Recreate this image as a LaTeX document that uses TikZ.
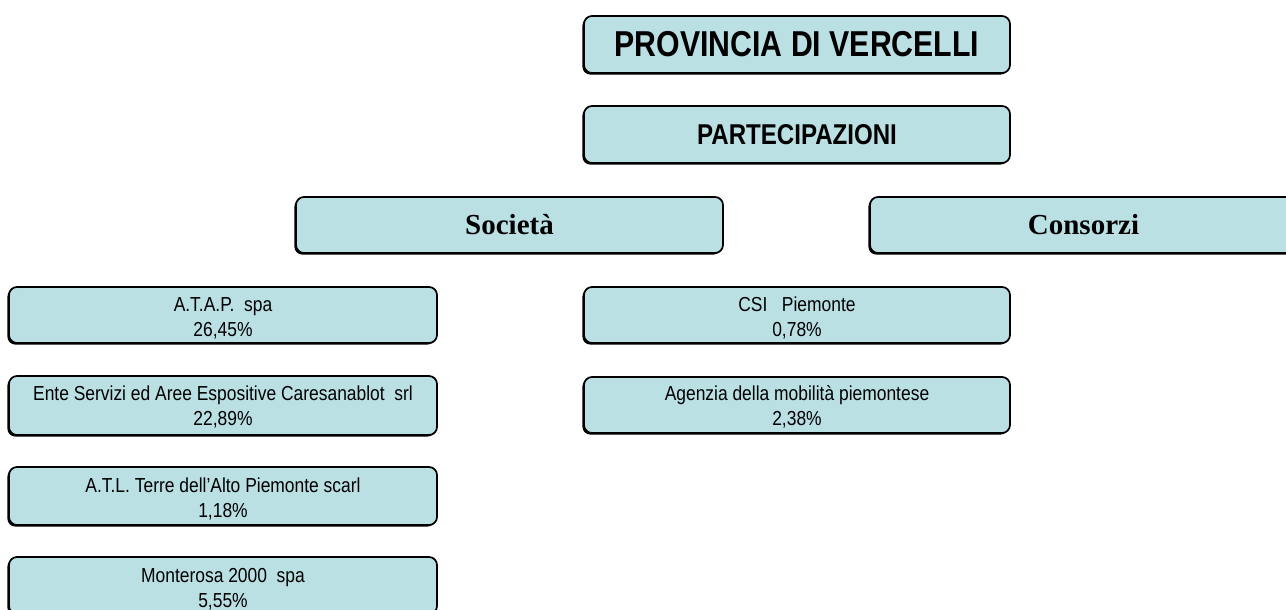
\documentclass[tikz,border=0pt]{standalone}
\usepackage{fontspec}
\setmainfont{Liberation Sans}
\newfontfamily\narrowfont[FakeStretch=0.86]{Liberation Sans}
\newfontfamily\titlefont[FakeStretch=0.84]{Liberation Sans}
\newfontfamily\serifb{Liberation Serif}
\usetikzlibrary{shadows}
\definecolor{boxfill}{RGB}{186,224,228}
\tikzset{
  orgbox/.style={draw=black, line width=1.3pt, fill=boxfill, rounded corners=6pt,
    inner sep=0pt, align=center,
    drop shadow={shadow xshift=-1.2pt, shadow yshift=-1.2pt, fill=black, opacity=1}},
  bigbox/.style={orgbox, minimum width=319.5pt, minimum height=42.75pt},
  catbox/.style={orgbox, minimum width=320.25pt, minimum height=42pt,
    font=\serifb\bfseries\fontsize{21.75pt}{24pt}\selectfont},
  smallbox/.style={orgbox, minimum width=321pt, text height=36.75pt, text depth=5.25pt,
    font=\narrowfont\fontsize{15.2pt}{18.75pt}\selectfont},
}
\begin{document}
\begin{tikzpicture}[x=0.75pt,y=-0.75pt]
\useasboundingbox (0,0) rectangle (1286,610);
\clip (0,0) rectangle (1286,610);
\node[bigbox, font=\titlefont\bfseries\fontsize{27pt}{30pt}\selectfont] (prov) at (797,44.5) {PROVINCIA DI VERCELLI};
\node[bigbox, font=\titlefont\bfseries\fontsize{21.5pt}{24pt}\selectfont] (part) at (797,134.5) {PARTECIPAZIONI};
\node[catbox] (soc) at (509.5,225) {Società};
\node[catbox] (cons) at (1083.5,225) {Consorzi};
\node[smallbox] (atap) at (223,315) {A.T.A.P.\ \ spa\\26,45\%};
\node[smallbox, text depth=7.5pt] (ente) at (223,405.5) {Ente Servizi ed Aree Espositive Caresanablot\ \ srl\\22,89\%};
\node[smallbox, text height=37.5pt, text depth=6pt] (atl) at (223,496) {A.T.L. Terre dell’Alto Piemonte scarl\\1,18\%};
\node[smallbox, text height=37.5pt, text depth=5.25pt] (monte) at (223,585.5) {Monterosa 2000\ \ spa\\5,55\%};
\node[smallbox, minimum width=319.5pt] (csi) at (797,315) {CSI\ \ \ Piemonte\\0,78\%};
\node[smallbox, minimum width=319.5pt, text height=36pt, text depth=6pt] (agen) at (797,405) {Agenzia della mobilità piemontese\\2,38\%};
\end{tikzpicture}
\end{document}
